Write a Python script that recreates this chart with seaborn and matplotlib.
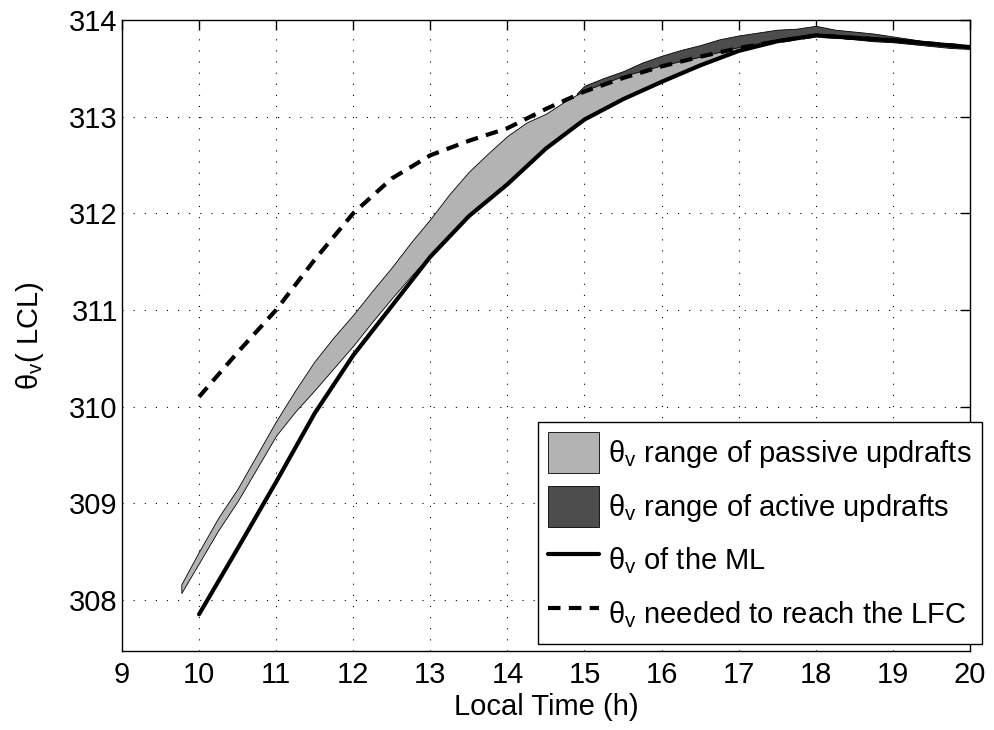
"""
Recreation of the theta_v (LCL) evolution chart: passive/active updraft ranges,
mixed-layer theta_v and the theta_v needed to reach the LFC.
"""

import matplotlib
matplotlib.use('Agg')
import matplotlib.pyplot as plt
import seaborn as sns

# ----------------------------------------------------------------------
# Data
# ----------------------------------------------------------------------
ml_time = [10.0, 10.5, 11.0, 11.5, 12.0, 12.5, 13.0, 13.5, 14.0, 14.5,
           15.0, 15.5, 16.0, 16.5, 17.0, 17.5, 18.0, 19.0, 20.0]
ml_theta = [307.85, 308.53, 309.22, 309.93, 310.53, 311.04, 311.55, 311.97, 312.30, 312.67,
            312.97, 313.18, 313.36, 313.53, 313.68, 313.78, 313.84, 313.79, 313.72]

lfc_time = [10.0, 10.5, 11.0, 11.5, 12.0, 12.5, 13.0, 13.5, 14.0, 14.5,
            15.0, 15.5, 16.0, 16.5, 17.0, 17.5, 18.0, 19.0, 20.0]
lfc_theta = [310.10, 310.56, 311.00, 311.52, 312.00, 312.36, 312.60, 312.75, 312.88, 313.08,
             313.26, 313.40, 313.52, 313.62, 313.71, 313.78, 313.84, 313.79, 313.72]

passive_time = [9.77, 10.0, 10.25, 10.5, 10.75, 11.0, 11.25, 11.5, 11.75, 12.0,
                12.25, 12.5, 12.75, 13.0, 13.25, 13.5, 13.75, 14.0, 14.25, 14.5,
                14.75, 15.0, 15.5, 16.0, 16.5, 17.0, 17.5, 18.0, 18.5, 19.0, 19.5, 20.0]
passive_upper = [308.16, 308.50, 308.85, 309.15, 309.50, 309.85, 310.17, 310.47, 310.72, 310.95,
                 311.20, 311.44, 311.70, 311.94, 312.20, 312.43, 312.62, 312.80, 312.94, 313.03,
                 313.16, 313.27, 313.42, 313.53, 313.62, 313.72, 313.80, 313.86, 313.82, 313.80,
                 313.76, 313.73]
passive_lower = [308.07, 308.38, 308.72, 309.02, 309.36, 309.70, 309.95, 310.17, 310.40, 310.63,
                 310.88, 311.12, 311.35, 311.57, 311.77, 311.97, 312.14, 312.30, 312.49, 312.67,
                 312.83, 312.97, 313.18, 313.36, 313.53, 313.68, 313.78, 313.84, 313.82, 313.79,
                 313.75, 313.72]

active_time = [14.9, 15.0, 15.25, 15.5, 15.75, 16.0, 16.25, 16.5, 16.75, 17.0,
               17.25, 17.5, 17.75, 18.0, 18.25, 18.5, 18.75, 19.0, 19.25, 19.5, 19.75, 20.0]
active_upper = [313.24, 313.32, 313.40, 313.47, 313.56, 313.63, 313.69, 313.74, 313.80, 313.84,
                313.87, 313.90, 313.91, 313.94, 313.90, 313.88, 313.86, 313.83, 313.80, 313.77,
                313.75, 313.73]
active_lower = [313.22, 313.24, 313.32, 313.38, 313.45, 313.50, 313.56, 313.60, 313.66, 313.70,
                313.74, 313.78, 313.81, 313.84, 313.82, 313.80, 313.78, 313.77, 313.75, 313.73,
                313.71, 313.70]

x_ticks = list(range(9, 21))
y_ticks = list(range(308, 315))

PASSIVE_COLOR = '#b3b3b3'
ACTIVE_COLOR = '#4d4d4d'
FONT_SIZE = 21


def main():
    sns.set_theme(style='white')
    plt.rcParams['font.family'] = ['Liberation Sans', 'DejaVu Sans']
    plt.rcParams['mathtext.fontset'] = 'custom'
    plt.rcParams['mathtext.rm'] = 'Liberation Sans'
    plt.rcParams['mathtext.it'] = 'Liberation Sans'
    plt.rcParams['mathtext.default'] = 'regular'
    for key in ['text.color', 'axes.labelcolor', 'xtick.color', 'ytick.color']:
        plt.rcParams[key] = 'black'

    fig = plt.figure(figsize=(9.94, 7.30), dpi=100)
    ax = fig.add_axes([0.1227, 0.1082, 0.8531, 0.8644])

    active = ax.fill_between(active_time, active_lower, active_upper,
                             facecolor=ACTIVE_COLOR, edgecolor='black', linewidth=0.6,
                             zorder=2, label=r'$\theta_v$ range of active updrafts')
    passive = ax.fill_between(passive_time, passive_lower, passive_upper,
                              facecolor=PASSIVE_COLOR, edgecolor='black', linewidth=0.6,
                              zorder=3, label=r'$\theta_v$ range of passive updrafts')

    sns.lineplot(x=ml_time, y=ml_theta, ax=ax, color='black', linewidth=3,
                 zorder=4, label=r'$\theta_v$ of the ML')
    sns.lineplot(x=lfc_time, y=lfc_theta, ax=ax, color='black', linewidth=3,
                 linestyle=(0, (3, 2)), zorder=4,
                 label=r'$\theta_v$ needed to reach the LFC')

    ax.set_xlim(9, 20)
    ax.set_ylim(307.47, 314)
    ax.set_xticks(x_ticks)
    ax.set_yticks(y_ticks)
    ax.tick_params(axis='both', which='both', direction='in', length=7, width=1,
                   labelsize=FONT_SIZE, top=True, right=True, color='black')
    ax.tick_params(axis='x', pad=7)
    ax.tick_params(axis='y', pad=3)
    ax.grid(True, color='black', linestyle=(0, (1, 9)), linewidth=0.8)
    for spine in ax.spines.values():
        spine.set_color('black')
        spine.set_linewidth(1.0)

    ax.set_xlabel('Local Time (h)', fontsize=FONT_SIZE, labelpad=3)
    ax.set_ylabel(r'$\theta_v$( LCL)', fontsize=FONT_SIZE, labelpad=17)

    line_handles, _ = ax.get_legend_handles_labels()
    ml_handle = [h for h in line_handles if h.get_label().endswith('ML')][0]
    lfc_handle = [h for h in line_handles if h.get_label().endswith('LFC')][0]
    handles = [passive, active, ml_handle, lfc_handle]
    leg = ax.legend(handles=handles, labels=[h.get_label() for h in handles],
                    loc='upper left', bbox_to_anchor=(538 / 994, 1 - 422 / 730),
                    bbox_transform=fig.transFigure, fontsize=FONT_SIZE, frameon=True,
                    fancybox=False, framealpha=1, edgecolor='black',
                    handlelength=1.75, handleheight=1.8, handletextpad=0.3,
                    labelspacing=0.42, borderpad=0.35, borderaxespad=0)
    leg.get_frame().set_linewidth(1.0)
    leg.set_zorder(10)

    fig.savefig('out.png', dpi=100)


if __name__ == '__main__':
    main()
